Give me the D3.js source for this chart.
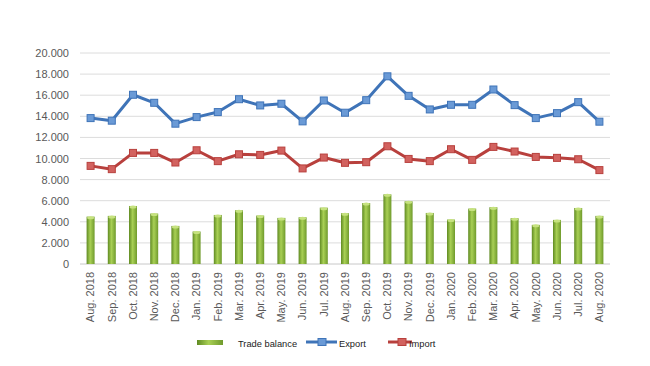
<!DOCTYPE html>
<html>
<head>
<meta charset="utf-8">
<script src="https://cdn.jsdelivr.net/npm/d3@7"></script>
<style>
  body { margin: 0; background: #fff; }
  text { font-family: "Liberation Sans", Arial, sans-serif; }
</style>
</head>
<body>
<div id="chart"></div>
<script>
const months = ["Aug. 2018", "Sep. 2018", "Oct. 2018", "Nov. 2018", "Dec. 2018", "Jan. 2019", "Feb. 2019",
  "Mar. 2019", "Apr. 2019", "May. 2019", "Jun. 2019", "Jul. 2019", "Aug. 2019", "Sep. 2019", "Oct. 2019",
  "Nov. 2019", "Dec. 2019", "Jan. 2020", "Feb. 2020", "Mar. 2020", "Apr. 2020", "May. 2020", "Jun. 2020",
  "Jul. 2020", "Aug. 2020"];
const tradeBalance = [4490, 4560, 5500, 4780, 3610, 3080, 4650, 5090, 4590, 4370, 4430, 5340, 4810, 5780,
  6600, 5940, 4840, 4210, 5250, 5380, 4340, 3710, 4180, 5310, 4560];
const exportVals = [13830, 13585, 16040, 15280, 13300, 13925, 14400, 15620, 15030, 15190, 13520, 15500,
  14340, 15530, 17790, 15940, 14650, 15090, 15090, 16540, 15060, 13830, 14300, 15340, 13490];
const importVals = [9300, 8990, 10530, 10530, 9620, 10780, 9750, 10400, 10340, 10750, 9060, 10090, 9590,
  9650, 11160, 9960, 9750, 10880, 9870, 11100, 10660, 10150, 10060, 9930, 8900];
const yTicks = [0, 2000, 4000, 6000, 8000, 10000, 12000, 14000, 16000, 18000, 20000];

const width = 650, height = 366;
const mLeft = 80, mRight = 610, mTop = 53, mBottom = 264;

const svg = d3.select("#chart").append("svg")
  .attr("width", width)
  .attr("height", height);

const defs = svg.append("defs");
const grad = defs.append("linearGradient").attr("id", "barGrad")
  .attr("x1", "0%").attr("x2", "100%").attr("y1", "0%").attr("y2", "0%");
grad.append("stop").attr("offset", "0%").attr("stop-color", "#5f8a22");
grad.append("stop").attr("offset", "45%").attr("stop-color", "#a9d055");
grad.append("stop").attr("offset", "100%").attr("stop-color", "#6f9a2c");

const x = d3.scaleBand().domain(months).range([mLeft, mRight]);
const y = d3.scaleLinear().domain([0, 20000]).range([mBottom, mTop]);

// gridlines
svg.append("g").selectAll("line")
  .data(yTicks)
  .enter().append("line")
  .attr("x1", mLeft).attr("x2", mRight)
  .attr("y1", d => y(d)).attr("y2", d => y(d))
  .attr("stroke", d => d === 0 ? "#c8c8c8" : "#dcdcdc")
  .attr("stroke-width", 1);

// y axis labels
const fmt = d => d === 0 ? "0" : d3.format(",")(d).replace(",", ".");
svg.append("g")
  .attr("transform", `translate(${mLeft - 8},0)`)
  .call(d3.axisLeft(y).tickValues(yTicks).tickFormat(fmt).tickSize(0))
  .call(g => g.select(".domain").remove())
  .call(g => g.selectAll("text").attr("fill", "#595959").attr("font-size", 11));

// x axis labels
svg.append("g")
  .attr("transform", `translate(0,${mBottom})`)
  .call(d3.axisBottom(x).tickSize(0))
  .call(g => g.select(".domain").remove())
  .call(g => g.selectAll("text")
    .attr("fill", "#595959").attr("font-size", 11)
    .attr("text-anchor", "end")
    .attr("transform", "rotate(-90)")
    .attr("x", -8).attr("y", 0).attr("dy", "0.35em"));

// bars
const barW = 8;
svg.append("g").selectAll("rect")
  .data(tradeBalance)
  .enter().append("rect")
  .attr("x", (d, i) => x(months[i]) + x.bandwidth() / 2 - barW / 2)
  .attr("y", d => y(d))
  .attr("width", barW)
  .attr("height", d => mBottom - y(d))
  .attr("fill", "url(#barGrad)");
svg.append("g").selectAll("ellipse")
  .data(tradeBalance)
  .enter().append("ellipse")
  .attr("cx", (d, i) => x(months[i]) + x.bandwidth() / 2)
  .attr("cy", d => y(d) + 1)
  .attr("rx", barW / 2 - 0.5).attr("ry", 1.5)
  .attr("fill", "#c6e27f");

// lines
function drawSeries(vals, color, light) {
  const line = d3.line()
    .x((d, i) => x(months[i]) + x.bandwidth() / 2)
    .y(d => y(d));
  svg.append("path").datum(vals)
    .attr("d", line)
    .attr("fill", "none")
    .attr("stroke", color)
    .attr("stroke-width", 3)
    .attr("stroke-linejoin", "round");
  svg.append("g").selectAll("rect")
    .data(vals)
    .enter().append("rect")
    .attr("x", (d, i) => x(months[i]) + x.bandwidth() / 2 - 3.5)
    .attr("y", d => y(d) - 3.5)
    .attr("width", 7).attr("height", 7)
    .attr("fill", light)
    .attr("stroke", color)
    .attr("stroke-width", 1);
}
drawSeries(exportVals, "#3f74b8", "#6a9ad6");
drawSeries(importVals, "#b8403d", "#d2625f");

// legend
const lg = svg.append("g").attr("font-size", 9.3).attr("fill", "#222");
lg.append("rect").attr("x", 197).attr("y", 340).attr("width", 26).attr("height", 5)
  .attr("fill", "url(#barGrad)");
lg.append("text").attr("x", 238).attr("y", 347).text("Trade balance");
lg.append("line").attr("x1", 306).attr("x2", 337).attr("y1", 342).attr("y2", 342)
  .attr("stroke", "#3f74b8").attr("stroke-width", 3);
lg.append("rect").attr("x", 318).attr("y", 338.5).attr("width", 8).attr("height", 7)
  .attr("fill", "#6a9ad6").attr("stroke", "#3f74b8");
lg.append("text").attr("x", 339).attr("y", 347).text("Export");
lg.append("line").attr("x1", 388).attr("x2", 412).attr("y1", 342).attr("y2", 342)
  .attr("stroke", "#b8403d").attr("stroke-width", 3);
lg.append("rect").attr("x", 398).attr("y", 338.5).attr("width", 8).attr("height", 7)
  .attr("fill", "#d2625f").attr("stroke", "#b8403d");
lg.append("text").attr("x", 409).attr("y", 347).text("Import");
</script>
</body>
</html>
